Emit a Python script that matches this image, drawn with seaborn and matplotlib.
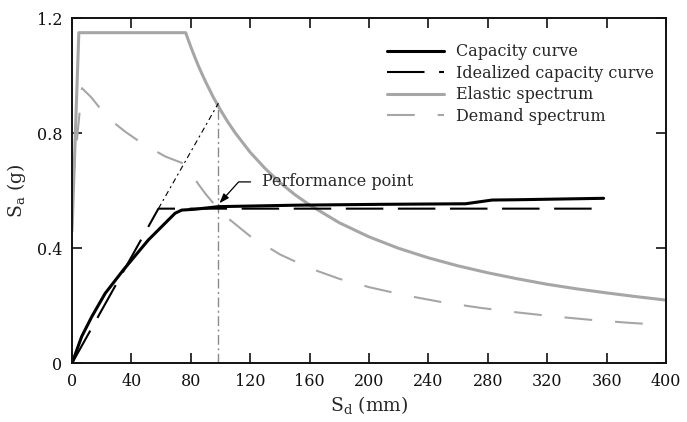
import matplotlib
matplotlib.use("Agg")
import matplotlib.pyplot as plt
import seaborn as sns

# ---- data ----
cap_sd = [0, 6.5, 13.3, 22.3, 34.6, 51.4, 69.4, 73.9, 82.9, 98.6, 150, 207, 265, 283, 300, 358]
cap_sa = [0, 0.093, 0.162, 0.243, 0.325, 0.429, 0.522, 0.533, 0.536, 0.545, 0.550, 0.553, 0.555, 0.568, 0.569, 0.574]

ideal_sd = [0, 58.2, 355]
ideal_sa = [0, 0.538, 0.538]

ext_sd = [58.2, 98.6]
ext_sa = [0.538, 0.905]

el_sd = [0, 4.6, 76.6, 78, 80, 82.5, 85, 87.5, 90, 95, 100, 105, 110, 120, 130, 140, 150, 160, 180, 200,
         220, 240, 260, 280, 300, 320, 340, 360, 380, 400]
el_sa = [0.46, 1.15, 1.15, 1.129, 1.101, 1.068, 1.036, 1.007, 0.979, 0.927, 0.881, 0.839, 0.801,
         0.734, 0.678, 0.629, 0.587, 0.551, 0.489, 0.440, 0.400, 0.367, 0.339, 0.315, 0.294,
         0.275, 0.259, 0.245, 0.232, 0.220]

dem_sd = [0, 6.7, 13, 20, 28, 36, 45, 54, 63, 70, 76.6, 80, 85, 90, 95, 105, 120, 140, 160, 180,
          200, 225, 250, 275, 300, 325, 350, 375, 400]
dem_sa = [0.60, 0.957, 0.925, 0.88, 0.838, 0.805, 0.773, 0.745, 0.719, 0.705, 0.692, 0.663,
          0.624, 0.589, 0.558, 0.505, 0.442, 0.379, 0.331, 0.294, 0.265, 0.236, 0.212, 0.193,
          0.177, 0.163, 0.151, 0.141, 0.133]

perf_sd = [98.6, 98.6]
perf_sa = [0.0, 0.905]

x_ticks = [0, 40, 80, 120, 160, 200, 240, 280, 320, 360, 400]
y_ticks = [0, 0.4, 0.8, 1.2]
y_tick_labels = ["0", "0.4", "0.8", "1.2"]

# ---- style ----
sns.set_style("ticks")
plt.rcParams["font.family"] = ["DejaVu Serif"]
plt.rcParams["mathtext.fontset"] = "dejavuserif"
plt.rcParams["lines.scale_dashes"] = False

GRAY = "#a6a6a6"

fig = plt.figure(figsize=(6.87, 4.22), dpi=100)
ax = fig.add_axes([0.1048, 0.139, 0.8646, 0.8176])

sns.lineplot(x=el_sd, y=el_sa, ax=ax, color=GRAY, lw=2.2, sort=False, estimator=None)
sns.lineplot(x=dem_sd, y=dem_sa, ax=ax, color=GRAY, lw=1.5, sort=False,
             estimator=None, linestyle=(0, (20, 16.5)))
sns.lineplot(x=perf_sd, y=perf_sa, ax=ax, color="#8a8a8a", lw=1.0, sort=False,
             estimator=None, linestyle=(0, (7, 2.5, 1.5, 2.5)))
sns.lineplot(x=ext_sd, y=ext_sa, ax=ax, color="black", lw=0.8, sort=False,
             estimator=None, linestyle=(0, (4, 2.5, 1.5, 2.5)))
sns.lineplot(x=cap_sd, y=cap_sa, ax=ax, color="black", lw=2.2, sort=False, estimator=None)
sns.lineplot(x=ideal_sd, y=ideal_sa, ax=ax, color="black", lw=1.5, sort=False,
             estimator=None, linestyle=(0, (27, 10.5)))

lines = ax.get_lines()
h_el, h_dem, h_cap, h_ideal = lines[0], lines[1], lines[4], lines[5]

ax.set_xlim(0, 400)
ax.set_ylim(0, 1.2)
ax.set_xticks(x_ticks)
ax.set_xticklabels([str(v) for v in x_ticks])
ax.set_yticks(y_ticks)
ax.set_yticklabels(y_tick_labels)

for s in ax.spines.values():
    s.set_linewidth(1.4)
    s.set_color("#111111")
ax.tick_params(direction="in", length=7.5, width=1.2, top=True, right=True,
               labelsize=11.5, pad=7, colors="#111111")

ax.set_xlabel(r"$\mathregular{S_d}$ (mm)", fontsize=13.5, labelpad=3)
ax.set_ylabel(r"$\mathregular{S_a}$ (g)", fontsize=13.5, labelpad=6)

ax.annotate("Performance point", xy=(99.3, 0.557), xytext=(128.1, 0.631),
            textcoords="data", ha="left", va="center", fontsize=11.5,
            arrowprops=dict(arrowstyle="-|>,head_length=0.5,head_width=0.18",
                            connectionstyle="angle,angleA=0,angleB=48,rad=0",
                            color="black", lw=0.9, relpos=(0, 0.5),
                            shrinkA=6, shrinkB=0))

ax.legend([h_cap, h_ideal, h_el, h_dem],
          ["Capacity curve", "Idealized capacity curve", "Elastic spectrum",
           "Demand spectrum"],
          loc="upper left", bbox_to_anchor=(0.530, 0.928), frameon=False,
          fontsize=11.5, handlelength=3.6, handletextpad=0.75,
          labelspacing=0.28, borderpad=0, borderaxespad=0)

fig.savefig("out.png", dpi=100)
